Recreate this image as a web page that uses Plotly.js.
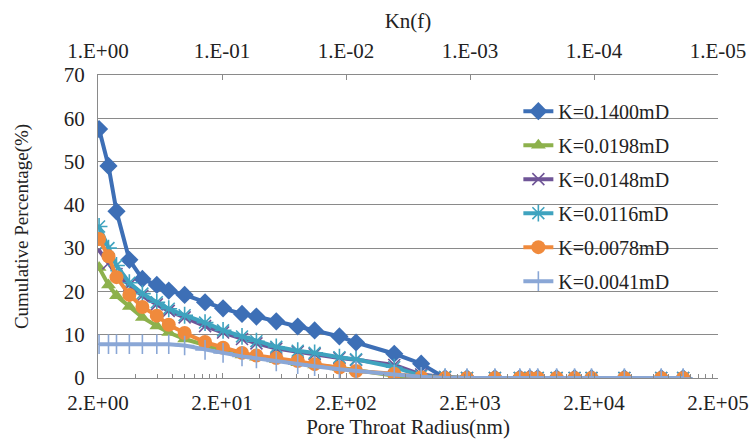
<!DOCTYPE html>
<html><head><meta charset="utf-8">
<script src="https://cdn.plot.ly/plotly-3.0.1.min.js"></script>
<style>html,body{margin:0;padding:0;background:#fff}#chart{width:753px;height:441px}</style>
</head><body><div id="chart"></div>
<script>
// Pore throat radius (nm) — shared measurement grid
const radius = [2.04, 2.43, 2.82, 3.58, 4.56, 5.96, 7.44, 9.99, 14.6, 20.4, 29.0, 37.9, 54.8, 81.6, 111.7,
  177, 241, 490, 808, 1260, 1892, 3176, 5042, 6068, 7034, 9994, 13946, 19096, 35160, 69700, 104700];

const k01400 = [57.5, 49.0, 38.5, 27.3, 22.9, 21.5, 20.2, 19.2, 17.5, 16.1, 14.8, 14.2, 13.1, 11.9, 11.0,
  9.6, 8.2, 5.6, 3.3, 0, 0, 0, 0, 0, 0, 0, 0, 0, 0, 0, 0];
const k00198 = [25.5, 21.5, 19.0, 16.5, 14.0, 12.0, 10.5, 9.0, 7.5, 6.4, 5.3, 4.8, 4.2, 3.5, 3.0,
  2.4, 1.8, 0.5, 0.2, 0, 0, 0, 0, 0, 0, 0, 0, 0, 0, 0, 0];
const k00148 = [29.5, 26.5, 24.0, 21.5, 19.0, 17.0, 15.5, 14.0, 12.0, 10.5, 9.0, 8.0, 6.8, 6.0, 5.5,
  4.6, 4.2, 3.0, 0.8, 0.2, 0, 0, 0, 0, 0, 0, 0, 0, 0, 0, 0];
const k00116 = [35.0, 30.0, 26.0, 22.0, 19.5, 17.5, 16.0, 14.5, 12.8, 11.0, 9.6, 8.5, 7.2, 6.3, 5.8,
  4.8, 4.3, 2.5, 0.5, 0.2, 0, 0, 0, 0, 0, 0, 0, 0, 0, 0, 0];
const k00078 = [32.1, 28.1, 23.3, 19.2, 16.4, 14.4, 12.3, 10.4, 8.3, 7.0, 5.8, 5.2, 4.6, 3.9, 3.2,
  2.4, 1.6, 1.0, 0.2, 0, 0, 0, 0, 0, 0, 0, 0, 0, 0, 0, 0];
const k00041 = [7.8, 7.8, 7.8, 7.8, 7.8, 7.8, 7.8, 7.5, 6.5, 5.8, 5.0, 4.5, 3.8, 3.2, 2.7,
  2.0, 1.6, 0.8, 0.3, 0, 0, 0, 0, 0, 0, 0, 0, 0, 0, 0, 0];

const seriesNames = ["K=0.1400mD", "K=0.0198mD", "K=0.0148mD", "K=0.0116mD", "K=0.0078mD", "K=0.0041mD"];

const radiusTicks = [2, 20, 200, 2000, 20000, 200000];
const radiusTickText = ["2.E+00", "2.E+01", "2.E+02", "2.E+03", "2.E+04", "2.E+05"];
const knTicks = [1, 0.1, 0.01, 0.001, 0.0001, 0.00001];
const knTickText = ["1.E+00", "1.E-01", "1.E-02", "1.E-03", "1.E-04", "1.E-05"];
const yTicks = [0, 10, 20, 30, 40, 50, 60, 70];

const FONT = "Liberation Serif, Times New Roman, serif";
const TXT = "#222222";
const GRID = "#8a8a8a";

// minor ticks like Excel log axis (2*base ... 9*base)
const minorVals = [];
radiusTicks.slice(0, -1).forEach(b => { for (let k = 2; k <= 9; k++) minorVals.push(b * k); });

const styles = [
  {color: "#3d6fb6", symbol: "diamond", size: 14, open: false},
  {color: "#8db14c", symbol: "triangle-up", size: 13, open: false},
  {color: "#6f5597", symbol: "x-thin-open", size: 12, open: true},
  {color: "#3fa3bf", symbol: "asterisk-open", size: 14, open: true},
  {color: "#f08a3c", symbol: "circle", size: 14, open: false},
  {color: "#8aa7d6", symbol: "cross-thin-open", size: 14, open: true}
];
const values = [k01400, k00198, k00148, k00116, k00078, k00041];

const traces = values.map((v, i) => {
  const s = styles[i];
  return {
    x: radius, y: v, name: seriesNames[i], type: "scatter", mode: "lines+markers",
    legendgroup: "g" + i,
    line: {color: s.color, width: 4},
    marker: s.open
      ? {symbol: s.symbol, size: s.size, color: s.color, line: {color: s.color, width: 1.6}}
      : {symbol: s.symbol, size: s.size, color: s.color, line: {width: 0}},
    hoverinfo: "x+y+name"
  };
});
// invisible carrier for the top Kn(f) axis
traces.push({x: [knTicks[0], knTicks[knTicks.length - 1]], y: [0, 0], xaxis: "x2", mode: "markers",
  marker: {opacity: 0}, showlegend: false, hoverinfo: "skip"});

const layout = {
  width: 753, height: 441,
  margin: {l: 98, r: 35, t: 75, b: 63},
  paper_bgcolor: "#ffffff", plot_bgcolor: "#ffffff",
  font: {family: FONT, size: 20, color: TXT},
  showlegend: true,
  legend: {
    x: 0.678, y: 0.945, xanchor: "left", yanchor: "top",
    bgcolor: "rgba(0,0,0,0)", font: {family: FONT, size: 20, color: TXT},
    tracegroupgap: 5, traceorder: "grouped"
  },
  xaxis: {
    type: "log", range: [Math.log10(2), Math.log10(200000)],
    tickmode: "array", tickvals: radiusTicks, ticktext: radiusTickText,
    ticks: "inside", ticklen: 5, tickcolor: GRID, ticklabelstandoff: 6,
    minor: {tickmode: "array", tickvals: minorVals, ticks: "inside", ticklen: 4, tickcolor: GRID, showgrid: false},
    showline: true, linecolor: GRID, linewidth: 1, showgrid: false, zeroline: false,
    tickfont: {family: FONT, size: 21, color: TXT},
    title: {text: "Pore Throat Radius(nm)", font: {family: FONT, size: 21, color: TXT}, standoff: 2}
  },
  xaxis2: {
    type: "log", overlaying: "x", side: "top", range: [0, -5],
    tickmode: "array", tickvals: knTicks, ticktext: knTickText,
    ticks: "inside", ticklen: 5, tickcolor: GRID, ticklabelstandoff: 8,
    showline: true, linecolor: GRID, linewidth: 1, showgrid: false, zeroline: false,
    tickfont: {family: FONT, size: 21, color: TXT},
    title: {text: "Kn(f)", font: {family: FONT, size: 21, color: TXT}, standoff: 4}
  },
  yaxis: {
    range: [0, 70], tickmode: "array", tickvals: yTicks,
    showgrid: true, gridcolor: GRID, gridwidth: 1, ticklabelstandoff: 8,
    showline: true, linecolor: GRID, linewidth: 1, zeroline: false, ticks: "",
    tickfont: {family: FONT, size: 21, color: TXT},
    title: {text: "Cumulative Percentage(%)", font: {family: FONT, size: 19, color: TXT}, standoff: 30}
  }
};

Plotly.newPlot("chart", traces, layout, {displayModeBar: false});
</script>
</body></html>
